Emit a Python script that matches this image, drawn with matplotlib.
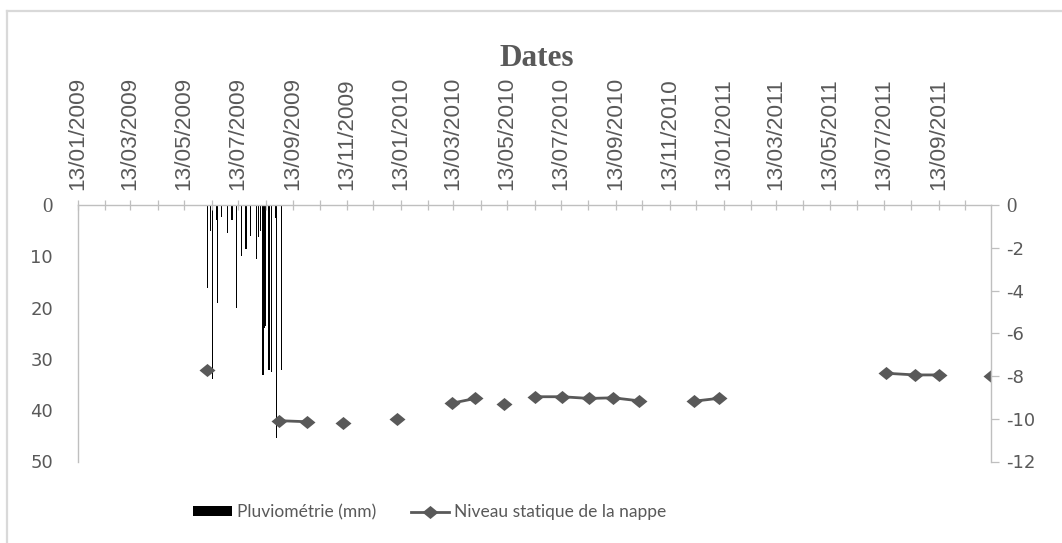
import matplotlib
matplotlib.use("Agg")
import matplotlib.pyplot as plt
import matplotlib.dates as mdates
import numpy as np
import pandas as pd
from matplotlib.lines import Line2D
from matplotlib.path import Path

plt.rcParams['axes.unicode_minus'] = False

# ---------------- data ----------------
rain_dates = ["2009-06-08", "2009-06-12", "2009-06-14", "2009-06-19", "2009-06-20",
              "2009-06-24", "2009-07-01", "2009-07-06", "2009-07-11", "2009-07-17",
              "2009-07-22", "2009-07-27", "2009-08-03", "2009-08-05", "2009-08-07",
              "2009-08-10", "2009-08-11", "2009-08-12", "2009-08-13", "2009-08-17",
              "2009-08-20", "2009-08-24", "2009-08-25", "2009-08-31"]
rain_mm = [16.2, 5.0, 34.0, 2.9, 19.1,
           2.4, 5.5, 2.9, 20.1, 10.0,
           8.5, 6.0, 10.6, 6.2, 5.0,
           33.1, 24.0, 24.0, 23.5, 32.1,
           32.5, 2.6, 45.4, 32.1]

level_dates = ["2009-06-08", "2009-08-28", "2009-09-29", "2009-11-08", "2010-01-09",
               "2010-03-12", "2010-04-07", "2010-05-10", "2010-06-13", "2010-07-14",
               "2010-08-14", "2010-09-10", "2010-10-09", "2010-12-10", "2011-01-08",
               "2011-07-15", "2011-08-17", "2011-09-13", "2011-11-11"]
level_m = [-7.72, -10.09, -10.14, -10.20, -10.01,
           -9.27, -9.05, -9.32, -8.97, -8.97,
           -9.05, -9.02, -9.16, -9.18, -9.04,
           -7.87, -7.95, -7.95, -8.00]
# consecutive points sharing a segment id are joined by a line (gaps = blank cells)
level_segment = [0, 1, 1, 2, 3, 4, 4, 5, 6, 6, 6, 6, 6, 7, 7, 8, 8, 8, 9]

left_ticks = [0, 10, 20, 30, 40, 50]
right_ticks = [-12, -10, -8, -6, -4, -2, 0]
x_start = "2009-01-13"
x_end = "2011-11-11"

title_text = "Dates"
rain_label = "Pluviométrie (mm)"
level_label = "Niveau statique de la nappe"

# ---------------- style ----------------
TXT = "#595959"
GRID = "#bfbfbf"
xfont, xsize = "Liberation Sans", 16.2

W, H = 1062, 543
fig = plt.figure(figsize=(W / 100, H / 100), dpi=100)
fig.patch.set_facecolor("white")
L, R, T, B = 78, 991, 205, 461.5
ax = fig.add_axes([L / W, 1 - B / H, (R - L) / W, (B - T) / H])
ax2 = ax.twinx()

rd = pd.to_datetime(rain_dates)
bars = ax.bar(rd, rain_mm, width=1.4, color="black", linewidth=0, label=rain_label)
ax.set_ylim(50, 0)
xmin, xmax = pd.Timestamp(x_start), pd.Timestamp(x_end)
ax.set_xlim(xmin, xmax)

ax.xaxis.tick_top()
major_loc = mdates.MonthLocator(bymonth=[1, 3, 5, 7, 9, 11], bymonthday=13)
major_vals = [v for v in major_loc.tick_values(xmin, xmax)
              if mdates.date2num(xmin) <= v <= mdates.date2num(xmax)]
major_labels = [mdates.num2date(v).strftime("%d/%m/%Y") for v in major_vals]
ax.set_xticks(major_vals, major_labels, fontfamily=xfont, fontsize=xsize,
              color=TXT, rotation=90)
ax.xaxis.set_minor_locator(mdates.MonthLocator(bymonthday=13))
ax.tick_params(axis="x", which="both", direction="inout", length=7.5, width=0.9,
               color=GRID, top=True, bottom=False)
ax.tick_params(axis="x", which="major", pad=7)

ax.set_yticks(left_ticks)
ax.set_yticklabels([str(v) for v in left_ticks])
ax.tick_params(axis="y", length=0, pad=18, labelsize=13, labelcolor=TXT)
for lab in ax.get_yticklabels():
    lab.set_fontfamily("Liberation Serif" if lab.get_text() == "0" else "DejaVu Sans")
    if lab.get_text() == "0":
        lab.set_fontsize(15)

for sp in ["bottom", "right"]:
    ax.spines[sp].set_visible(False)
for sp in ["left", "top"]:
    ax.spines[sp].set_color(GRID)
    ax.spines[sp].set_linewidth(1.0)
for sp in ["bottom", "left", "top"]:
    ax2.spines[sp].set_visible(False)
ax2.spines["right"].set_color(GRID)
ax2.spines["right"].set_linewidth(1.0)

# level series
diamond = Path([(-1.0, 0.0), (0.0, 0.82), (1.0, 0.0), (0.0, -0.82), (-1.0, 0.0)],
               [Path.MOVETO, Path.LINETO, Path.LINETO, Path.LINETO, Path.CLOSEPOLY])
ld = pd.to_datetime(level_dates)
lv = np.array(level_m)
seg = np.array(level_segment)
line_handle = None
for s in np.unique(seg):
    m = seg == s
    h, = ax2.plot(ld[m], lv[m], color="#595959", lw=2.0, marker=diamond, ms=11.5,
                  mfc="#595959", mec="#595959", mew=0)
    if line_handle is None:
        line_handle = h
ax2.set_ylim(-12, 0)
ax2.set_yticks(right_ticks)
ax2.set_yticklabels([str(v) for v in right_ticks])
ax2.tick_params(axis="y", direction="out", length=6, width=0.9, color=GRID,
                pad=5, labelsize=13, labelcolor=TXT)
for lab in ax2.get_yticklabels():
    lab.set_fontfamily("Liberation Serif" if lab.get_text() == "0" else "DejaVu Sans")
    if lab.get_text() == "0":
        lab.set_fontsize(15)
ax.set_xlim(xmin, xmax)

# title
fig.text(537 / W, 1 - 58 / H, title_text, fontfamily="Liberation Serif",
         fontweight="bold", fontsize=22.5, color=TXT, ha="center", va="center")

# legend
leg = fig.legend([bars, line_handle], [rain_label, level_label], loc="center",
                 bbox_to_anchor=(430 / W, 1 - 512 / H), ncol=2, frameon=False,
                 prop={"family": "Lato", "size": 12.5}, labelcolor=TXT,
                 handlelength=2.2, handleheight=0.5, handletextpad=0.3,
                 columnspacing=2.0, numpoints=1)

# outer chart frame (left and top edges visible)
fig.add_artist(Line2D([7 / W, 7 / W], [0, 1 - 11 / H], transform=fig.transFigure,
                      color="#d9d9d9", lw=1.6))
fig.add_artist(Line2D([7 / W, 1], [1 - 11 / H, 1 - 11 / H], transform=fig.transFigure,
                      color="#d9d9d9", lw=1.6))

fig.savefig("out.png", dpi=100, facecolor="white")
